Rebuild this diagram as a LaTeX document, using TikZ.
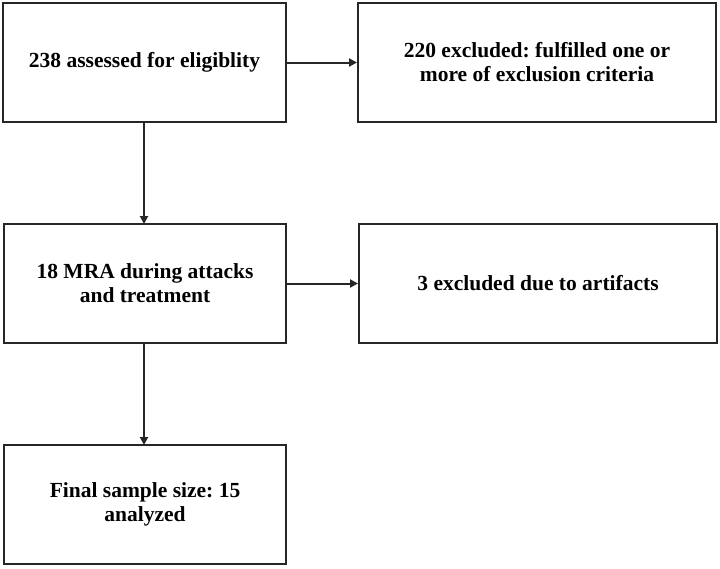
\documentclass[tikz,border=0pt]{standalone}
\usepackage{fontspec}
\setmainfont{Liberation Serif}
\frenchspacing
\usetikzlibrary{arrows.meta}
\begin{document}
\begin{tikzpicture}[x=1pt,y=-1pt,
  box/.style={draw=black!85,line width=2pt,rectangle,align=center,
    font=\fontsize{21.5}{24}\selectfont\bfseries,inner sep=0pt},
  conn/.style={draw=black!85,line width=2pt,-{Triangle[length=8pt,width=8pt]}}]
\useasboundingbox (0,0) rectangle (720,568);
\node[box,minimum width=283pt,minimum height=119pt] (a) at (144.5,62.5) {238 assessed for eligiblity};
\node[box,minimum width=358pt,minimum height=119pt] (b) at (537,62.5) {220 excluded: fulfilled one or\\more of exclusion criteria};
\node[box,minimum width=282pt,minimum height=119pt] (c) at (145,283.5) {18 MRA during attacks\\and treatment};
\node[box,minimum width=358pt,minimum height=119pt] (d) at (538,283.5) {3 excluded due to artifacts};
\node[box,minimum width=282pt,minimum height=119pt] (e) at (145,504.5) {Final sample size: 15\\analyzed};
\draw[conn] (a.east) -- (b.west);
\draw[conn] (c.east) -- (d.west);
\draw[conn] (144,122) -- (144,224);
\draw[conn] (144,343) -- (144,445);
\end{tikzpicture}
\end{document}
